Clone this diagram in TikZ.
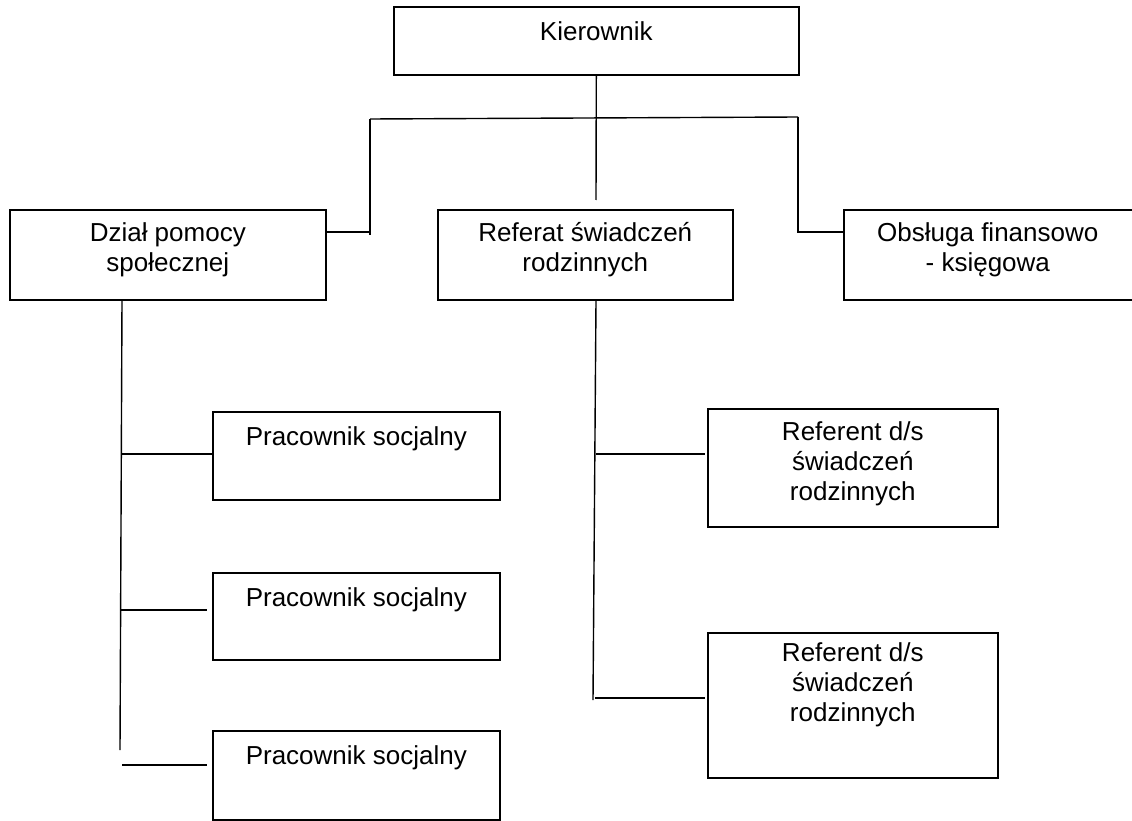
\documentclass[tikz,border=0pt]{standalone}
\usepackage{fontspec}
\setmainfont{Liberation Sans}
\usetikzlibrary{calc}
\begin{document}
\begin{tikzpicture}[x=1pt,y=-1pt,
  box/.style={draw, line width=1.6pt, inner sep=0pt, anchor=north west},
  lbl/.style={anchor=north, align=center, inner sep=0pt, font=\fontsize{26}{30}\selectfont, execute at begin node=\strut},
  conn/.style={line width=1.4pt}]
\useasboundingbox (0,0) rectangle (1132,821);
% boxes
\node[box, minimum width=405pt, minimum height=68pt] (k) at (393,6) {};
\node[box, minimum width=316pt, minimum height=90pt] (d) at (9,209) {};
\node[box, minimum width=295pt, minimum height=90pt] (r) at (437,209) {};
\node[box, minimum width=292pt, minimum height=90pt] (o) at (843,209) {};
\node[box, minimum width=287pt, minimum height=88pt] (p1) at (212,411) {};
\node[box, minimum width=287pt, minimum height=87pt] (p2) at (212,572) {};
\node[box, minimum width=287pt, minimum height=89pt] (p3) at (212,730) {};
\node[box, minimum width=290pt, minimum height=118pt] (f1) at (707,408) {};
\node[box, minimum width=290pt, minimum height=145pt] (f2) at (707,632) {};
% labels
\node[lbl] (kt) at ($(k.north)+(0,13)$) {Kierownik};
\node[lbl] (dt) at ($(d.north)+(0,13)$) {Dział pomocy\\społecznej};
\node[lbl] (rtx) at ($(r.north)+(0,13)$) {Referat świadczeń\\rodzinnych};
\node[lbl] (ot) at ($(o.north)+(-2,13)$) {Obsługa finansowo\\- księgowa};
\node[lbl] (p1t) at ($(p1.north)+(0,13)$) {Pracownik socjalny};
\node[lbl] (p2t) at ($(p2.north)+(0,13)$) {Pracownik socjalny};
\node[lbl] (p3t) at ($(p3.north)+(0,13)$) {Pracownik socjalny};
\node[lbl] (f1t) at ($(f1.north)+(0,13)$) {Referent d/s\\świadczeń\\rodzinnych};
\node[lbl] (f2t) at ($(f2.north)+(0,10)$) {Referent d/s\\świadczeń\\rodzinnych};
% connector points
\coordinate (barL) at (370,119);
\coordinate (barR) at (798,117);
\coordinate (kend) at (596,200);
\coordinate (lend) at (370,235);
\coordinate (lj) at (370,232);
\coordinate (rend) at (798,233);
\coordinate (rj) at (798,232);
\coordinate (rx) at (596,0);
\coordinate (rtend) at (593,700);
\coordinate (s1) at (596,454);
\coordinate (s2) at (595,698);
\coordinate (dx) at (122,0);
\coordinate (dtend) at (120,750);
\coordinate (q1) at (122,454);
\coordinate (q2) at (121,610);
\coordinate (q3) at (122,765);
% connectors
\draw[conn] (k.south) -- (kend);
\draw[conn] (barL) -- (barR);
\draw[conn] (barL) -- (lend);
\draw[conn] (lj -| d.east) -- (lj);
\draw[conn] (barR) -- (rend);
\draw[conn] (rj) -- (rj -| o.west);
\draw[conn] (r.south -| rx) -- (rtend);
\draw[conn] (s1) -- ($(s1 -| f1.west)+(-2,0)$);
\draw[conn] (s2) -- ($(s2 -| f2.west)+(-2,0)$);
\draw[conn] (d.south -| dx) -- (dtend);
\draw[conn] (q1) -- (q1 -| p1.west);
\draw[conn] (q2) -- ($(q2 -| p2.west)+(-5,0)$);
\draw[conn] (q3) -- ($(q3 -| p3.west)+(-5,0)$);
\end{tikzpicture}
\end{document}
